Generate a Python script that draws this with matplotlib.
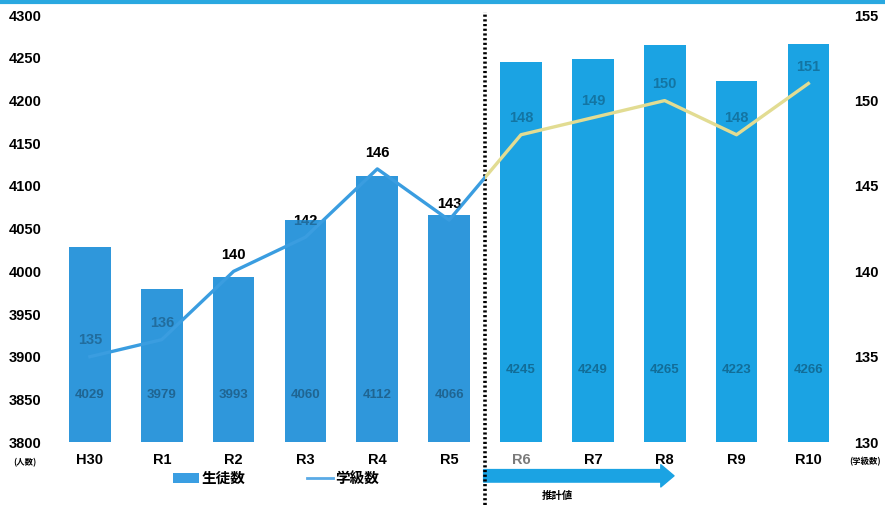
import matplotlib
matplotlib.use("Agg")
import matplotlib.pyplot as plt
from matplotlib.patches import Rectangle, Patch
from matplotlib.lines import Line2D
from matplotlib.transforms import blended_transform_factory

plt.rcParams['font.family'] = ['Liberation Sans', 'Noto Sans CJK JP', 'DejaVu Sans']
plt.rcParams['font.weight'] = 'bold'

categories = ["H30", "R1", "R2", "R3", "R4", "R5", "R6", "R7", "R8", "R9", "R10"]
students = [4029, 3979, 3993, 4060, 4112, 4066, 4245, 4249, 4265, 4223, 4266]
classes = [135, 136, 140, 142, 146, 143, 148, 149, 150, 148, 151]
left_ticks = [3800, 3850, 3900, 3950, 4000, 4050, 4100, 4150, 4200, 4250, 4300]
right_ticks = [130, 135, 140, 145, 150, 155]
n_actual = 6  # H30..R5 actual, R6.. projected

C_BAR_OLD = "#2f97db"
C_BAR_NEW = "#1ba3e3"
C_LINE_OLD = "#3a9de0"
C_LINE_NEW = "#e2dc92"
FS = 10.5

fig = plt.figure(figsize=(8.85, 5.07), dpi=100)
ax = fig.add_axes([0.061, 0.128, 0.893, 0.842])
ax2 = ax.twinx()

x = list(range(len(categories)))
bar_colors = [C_BAR_OLD if i < n_actual else C_BAR_NEW for i in x]
ax.bar(x, [s - 3800 for s in students], bottom=3800, width=0.58, color=bar_colors, zorder=2)
ax.set_xlim(-0.5, len(categories) - 0.5)
ax.set_ylim(3800, 4300)
ax.set_yticks(left_ticks)
ax.set_yticklabels([str(t) for t in left_ticks], fontsize=FS, fontweight='bold')
ax.set_xticks(x)
ax.set_xticklabels(categories, fontsize=FS, fontweight='bold')
for lbl in ax.get_xticklabels():
    if lbl.get_text() == "R6":
        lbl.set_color("#7a7a7a")
ax.tick_params(axis='both', length=0)
ax.tick_params(axis='x', pad=8)
ax.tick_params(axis='y', pad=9)

ax2.set_ylim(130, 155)
ax2.set_yticks(right_ticks)
ax2.set_yticklabels([str(t) for t in right_ticks], fontsize=FS, fontweight='bold')
ax2.tick_params(axis='y', length=0, pad=7)

for a in (ax, ax2):
    for sp in a.spines.values():
        sp.set_visible(False)

# bar value labels (muted, inside bars)
for i, s in enumerate(students):
    yy = 0.11 if i < n_actual else 0.169
    ax.text(i, yy, str(s), transform=blended_transform_factory(ax.transData, ax.transAxes),
            ha='center', va='center', fontsize=9.5, color='black', alpha=0.33, zorder=5)

# line split at the projection divider
bt = blended_transform_factory(ax2.transData, ax2.transAxes)
l1, = ax2.plot(x, classes, color=C_LINE_OLD, lw=2.4, zorder=4)
l2, = ax2.plot(x, classes, color=C_LINE_NEW, lw=2.4, zorder=4)
r1 = Rectangle((-1, -1), n_actual - 0.5 + 1, 3, transform=bt)
r2 = Rectangle((n_actual - 0.5, -1), 10, 3, transform=bt)
l1.set_clip_path(r1)
l2.set_clip_path(r2)

# line value labels: black beneath bars, faded copy over bars
for i, c in enumerate(classes):
    ax.text(i, c + 0.55, str(c), transform=ax2.transData, ha='center', va='bottom',
            fontsize=FS, fontweight='bold', color='black', zorder=1)
    ax2.text(i, c + 0.55, str(c), ha='center', va='bottom', fontsize=FS,
             fontweight='bold', color='black', alpha=0.28, zorder=5)

# dotted divider
ax.plot([n_actual - 0.5, n_actual - 0.5], [-0.148, 1.007], transform=bt,
        color='black', lw=2.6, linestyle=(0, (0.6, 0.7)), clip_on=False, zorder=6)

# projection arrow
ax.annotate("", xy=(8.13, -0.079), xytext=(n_actual - 0.52, -0.079),
            xycoords=('data', 'axes fraction'), textcoords=('data', 'axes fraction'),
            arrowprops=dict(arrowstyle='simple,head_length=0.95,head_width=1.6,tail_width=0.9',
                            color=C_BAR_NEW, mutation_scale=10, shrinkA=0, shrinkB=0),
            annotation_clip=False)
ax.text(6.5, -0.126, "推計値", transform=blended_transform_factory(ax.transData, ax.transAxes),
        ha='center', va='center', fontsize=7.5, fontweight='bold', family=['Noto Sans CJK JP'])

# unit labels
fig.text(0.028, 1 - 463 / 507, "(人数)", fontsize=6, fontweight='bold',
         family=['Noto Sans CJK JP'], ha='center', va='center')
fig.text(0.977, 1 - 462 / 507, "(学級数)", fontsize=6, fontweight='bold',
         family=['Noto Sans CJK JP'], ha='center', va='center')

# legend
handles = [Patch(facecolor="#3a9ee2", edgecolor='none'),
           Line2D([], [], color="#5aaae6", lw=2)]
leg = fig.legend(handles, ["生徒数", "学級数"], loc='center', bbox_to_anchor=(0.312, 0.057),
                 ncol=2, frameon=False, handlelength=1.8, handletextpad=0.15,
                 columnspacing=4.2, prop={'family': ['Noto Sans CJK JP'], 'weight': 'bold', 'size': 10.5})

# top border strip
fig.add_artist(Line2D([0, 1], [0.997, 0.997], transform=fig.transFigure, color="#29a8e0", lw=3))

fig.savefig("out.png", dpi=100)
